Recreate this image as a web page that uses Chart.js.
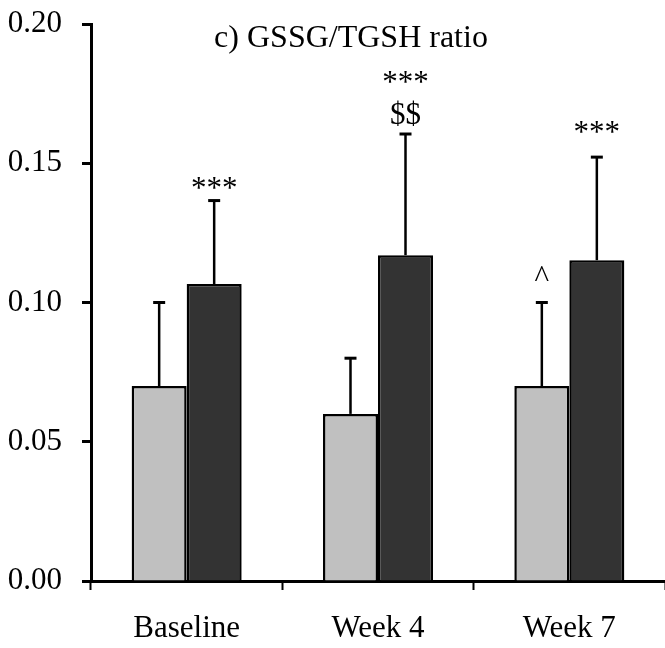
<!DOCTYPE html>
<html>
<head>
<meta charset="utf-8">
<script src="https://cdn.jsdelivr.net/npm/chart.js@4/dist/chart.umd.min.js"></script>
<style>
  html, body { margin: 0; padding: 0; background: #fff; }
  canvas { display: block; }
</style>
</head>
<body>
<canvas id="ratioChart" width="665" height="648"></canvas>
<script>
// GSSG/TGSH ratio data
const categories = ['Baseline', 'Week 4', 'Week 7'];
const lightMeans = [0.070, 0.060, 0.070];
const lightSD = [0.030, 0.020, 0.030];
const darkMeans = [0.1066, 0.117, 0.1152];
const darkSD = [0.030, 0.0435, 0.037];
const yTicks = [0.00, 0.05, 0.10, 0.15, 0.20];

// significance marks: [dataset, category, text lines bottom-up]
const marks = [
    [1, 0, ['***']],
    [1, 1, ['$$', '***']],
    [1, 2, ['***']],
    [0, 2, ['^']]
];
const markGaps = [3, 10, 15, 16]; // px between cap and first mark

const FONT = '"Liberation Serif", "Times New Roman", serif';

const errorBars = {
    id: 'errorBars',
    afterDatasetsDraw(chart) {
        const ctx = chart.ctx;
        const y = chart.scales.y;
        const sds = [lightSD, darkSD];
        ctx.save();
        ctx.strokeStyle = '#000';
        chart.data.datasets.forEach((ds, di) => {
            chart.getDatasetMeta(di).data.forEach((bar, i) => {
                const top = y.getPixelForValue(ds.data[i] + sds[di][i]);
                ctx.lineWidth = 2.5;
                ctx.beginPath();
                ctx.moveTo(bar.x, bar.y);
                ctx.lineTo(bar.x, top);
                ctx.stroke();
                ctx.lineWidth = 3;
                ctx.beginPath();
                ctx.moveTo(bar.x - 6, top);
                ctx.lineTo(bar.x + 6, top);
                ctx.stroke();
            });
        });

        // marks above error bars
        ctx.fillStyle = '#000';
        ctx.font = '31px ' + FONT;
        ctx.textAlign = 'center';
        ctx.textBaseline = 'alphabetic';
        marks.forEach((m, k) => {
            const [di, i, lines] = m;
            const bar = chart.getDatasetMeta(di).data[i];
            const top = y.getPixelForValue(chart.data.datasets[di].data[i] + sds[di][i]);
            lines.forEach((t, j) => {
                ctx.fillText(t, bar.x, top - markGaps[k] - j * 32);
            });
        });

        // panel title
        ctx.font = '32px ' + FONT;
        ctx.fillText('c) GSSG/TGSH ratio', 351, 47);
        ctx.restore();
    }
};

const ctx = document.getElementById('ratioChart').getContext('2d');
new Chart(ctx, {
    type: 'bar',
    data: {
        labels: categories,
        datasets: [
            {
                data: lightMeans,
                backgroundColor: '#c0c0c0',
                borderColor: '#000',
                borderWidth: 2.5
            },
            {
                data: darkMeans,
                backgroundColor: '#333333',
                borderColor: '#000',
                borderWidth: 2.5
            }
        ]
    },
    options: {
        responsive: false,
        animation: false,
        layout: { padding: { top: 24, right: 0, left: 0, bottom: 0 } },
        plugins: {
            legend: { display: false },
            tooltip: { enabled: false }
        },
        datasets: {
            bar: { categoryPercentage: 0.575, barPercentage: 1.0 }
        },
        scales: {
            x: {
                grid: {
                    offset: true,
                    drawOnChartArea: false,
                    drawTicks: true,
                    tickLength: 9,
                    tickWidth: 2,
                    tickColor: '#000'
                },
                border: { display: true, color: '#000', width: 3 },
                ticks: {
                    color: '#000',
                    font: { family: FONT, size: 31 },
                    padding: 20
                },
                afterFit(scale) { scale.height = 67; }
            },
            y: {
                min: 0,
                max: 0.2,
                afterBuildTicks(scale) {
                    scale.ticks = yTicks.map(v => ({ value: v }));
                },
                afterFit(scale) {
                    scale.width = 91;
                    scale.paddingTop = 0;
                    scale.paddingBottom = 0;
                },
                grid: {
                    drawOnChartArea: false,
                    drawTicks: true,
                    tickLength: 9,
                    tickWidth: 3,
                    tickColor: '#000'
                },
                border: { display: true, color: '#000', width: 3 },
                ticks: {
                    color: '#000',
                    font: { family: FONT, size: 31 },
                    padding: 20,
                    callback: v => Number(v).toFixed(2)
                }
            }
        }
    },
    plugins: [errorBars]
});
</script>
</body>
</html>
